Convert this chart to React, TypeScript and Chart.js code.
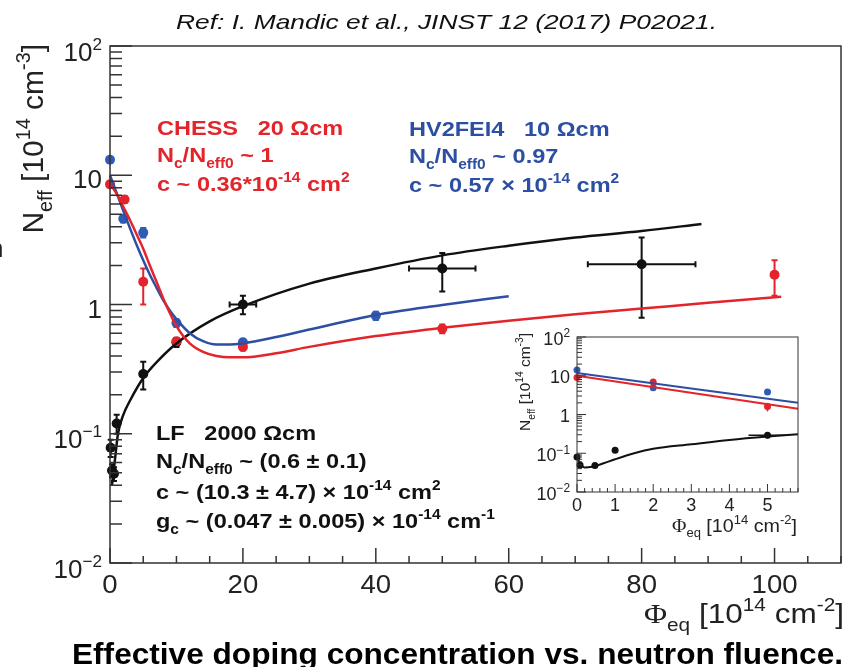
import React, { useEffect, useRef } from "react";
import { Chart, registerables } from "chart.js";
Chart.register(...registerables);

const RED = "#e3242b";
const BLUE = "#2d4fa3";
const BLUE_PT = "#2f5bb5";
const BLACK = "#111111";
const SANS = "'Liberation Sans', Arial, Helvetica, sans-serif";
const SERIF = "'Liberation Serif', 'Times New Roman', serif";

// ---------- main plot data ----------
const chessPhi = [0, 2.2, 5, 10, 20, 50, 100];
const chessNeff = [8.5, 6.5, 1.5, 0.52, 0.47, 0.65, 1.7];
const chessErrUp = [0.4, 0.4, 0.4, 0.03, 0.03, 0.05, 0.5];
const chessErrDn = [0.4, 0.4, 0.5, 0.03, 0.03, 0.05, 0.53];

const hvPhi = [0, 2, 5, 10, 20, 40];
const hvNeff = [13.2, 4.6, 3.6, 0.72, 0.51, 0.82];
const hvErr = [0.6, 0.3, 0.3, 0.05, 0.03, 0.06];

const lfPhi = [0.1, 0.3, 0.6, 1, 5, 10, 20, 50, 80];
const lfNeff = [0.078, 0.052, 0.049, 0.12, 0.29, 0.51, 1.0, 1.9, 2.05];
const lfPhiErr = [0, 0, 0, 0, 0, 0, 2, 5, 8.1];
const lfErrUp = [0.012, 0.006, 0.006, 0.02, 0.07, 0.04, 0.17, 0.6, 1.25];
const lfErrDn = [0.012, 0.006, 0.006, 0.02, 0.07, 0.04, 0.16, 0.64, 1.26];

// fit curves
const chessFitPhi = [0, 1, 2, 3, 4, 5, 6, 7, 8, 9, 10, 12, 14, 16, 18, 20, 25, 30, 40, 50, 60, 70, 80, 90, 101];
const chessFitNeff = [8.6, 7.2, 5.7, 4.5, 3.5, 2.7, 2.0, 1.5, 1.12, 0.86, 0.68, 0.5, 0.43, 0.4, 0.39, 0.39, 0.42, 0.47, 0.57, 0.66, 0.75, 0.84, 0.93, 1.03, 1.15];
const hvFitPhi = [0, 1, 2, 3, 4, 5, 6, 7, 8, 9, 10, 12, 14, 16, 18, 20, 25, 30, 40, 50, 60];
const hvFitNeff = [10, 7.3, 5.3, 3.9, 2.9, 2.2, 1.7, 1.35, 1.08, 0.9, 0.77, 0.6, 0.52, 0.49, 0.49, 0.5, 0.56, 0.64, 0.83, 0.99, 1.16];
const lfFitPhi = [0.3, 0.7, 1.2, 2, 3, 5, 7.5, 10, 15, 20, 30, 40, 50, 60, 70, 80, 89];
const lfFitNeff = [0.04, 0.06, 0.1, 0.14, 0.18, 0.27, 0.38, 0.5, 0.74, 0.97, 1.45, 1.9, 2.4, 2.85, 3.3, 3.7, 4.2];

// axis ticks
const xTickValues = [0, 20, 40, 60, 80, 100];
const yTickValues = [0.01, 0.1, 1, 10, 100];
const yTickBase = ["10", "10", "1", "10", "10"];
const yTickSup = ["\u22122", "\u22121", "", "", "2"];

// ---------- inset data ----------
const inChessPhi = [0, 2, 5];
const inChessNeff = [9, 6.9, 1.6];
const inChessErr = [0.5, 0.4, 0.4];
const inHvPhi = [0, 2, 5];
const inHvNeff = [14, 4.9, 3.8];
const inLfPhi = [0, 0.08, 0.47, 1, 5];
const inLfNeff = [0.08, 0.05, 0.048, 0.12, 0.29];
const inLfPhiErr = [0, 0, 0, 0, 0.5];
const inLfErr = [0.01, 0.005, 0.005, 0.01, 0.05];
const inChessFitPhi = [0, 5.8];
const inChessFitNeff = [10, 1.4];
const inHvFitPhi = [0, 5.8];
const inHvFitNeff = [11.8, 2.0];
const inLfFitPhi = [0, 0.1, 0.2, 0.4, 0.7, 1, 1.5, 2, 3, 4, 5, 5.8];
const inLfFitNeff = [0.08, 0.052, 0.043, 0.045, 0.055, 0.07, 0.1, 0.13, 0.17, 0.22, 0.27, 0.31];
const inXTickValues = [0, 1, 2, 3, 4, 5];

type Seg = { t: string; s?: "sub" | "sup"; f?: string };
type RichOpts = {
  weight?: string;
  family?: string;
  align?: "left" | "right" | "center";
  sx?: number;
  targetW?: number;
};

function segFont(seg: Seg, size: number, weight: string, family: string) {
  const sz = seg.s ? size * 0.66 : size;
  return `${weight} ${sz}px ${seg.f || family}`;
}

function richWidth(ctx: CanvasRenderingContext2D, segs: Seg[], size: number, weight: string, family: string) {
  let w = 0;
  for (const s of segs) {
    ctx.font = segFont(s, size, weight, family);
    w += ctx.measureText(s.t).width;
  }
  return w;
}

function drawRich(
  ctx: CanvasRenderingContext2D,
  x: number,
  y: number,
  segs: Seg[],
  size: number,
  color: string,
  o: RichOpts = {}
) {
  const weight = o.weight || "normal";
  const family = o.family || SANS;
  const align = o.align || "left";
  const w = richWidth(ctx, segs, size, weight, family);
  const sx = o.targetW ? o.targetW / w : o.sx || 1;
  const x0 = align === "left" ? x : align === "right" ? x - w * sx : x - (w * sx) / 2;
  ctx.save();
  ctx.translate(x0, y);
  ctx.scale(sx, 1);
  ctx.fillStyle = color;
  ctx.textBaseline = "alphabetic";
  ctx.textAlign = "left";
  let cx = 0;
  for (const s of segs) {
    ctx.font = segFont(s, size, weight, family);
    const dy = s.s === "sub" ? size * 0.3 : s.s === "sup" ? -size * 0.42 : 0;
    ctx.fillText(s.t, cx, dy);
    cx += ctx.measureText(s.t).width;
  }
  ctx.restore();
}

function toPts(xs: number[], ys: number[]) {
  return xs.map((x, i) => ({ x, y: ys[i] }));
}

type ErrSet = { x: number[]; y: number[]; xe?: number[]; up: number[]; dn: number[]; color: string };

function drawErrors(chart: any, sets: ErrSet[], cap: number, lw: number) {
  const ctx: CanvasRenderingContext2D = chart.ctx;
  const xs = chart.scales.x;
  const ys = chart.scales.y;
  ctx.save();
  ctx.lineWidth = lw;
  for (const set of sets) {
    ctx.strokeStyle = set.color;
    set.x.forEach((xv, i) => {
      const px = xs.getPixelForValue(xv);
      const py = ys.getPixelForValue(set.y[i]);
      const top = ys.getPixelForValue(set.y[i] + set.up[i]);
      const bot = ys.getPixelForValue(set.y[i] - set.dn[i]);
      ctx.beginPath();
      ctx.moveTo(px, top);
      ctx.lineTo(px, bot);
      if (cap > 0) {
        ctx.moveTo(px - cap, top);
        ctx.lineTo(px + cap, top);
        ctx.moveTo(px - cap, bot);
        ctx.lineTo(px + cap, bot);
      }
      const xe = set.xe ? set.xe[i] : 0;
      if (xe > 0) {
        const l = xs.getPixelForValue(xv - xe);
        const r = xs.getPixelForValue(xv + xe);
        ctx.moveTo(l, py);
        ctx.lineTo(r, py);
        if (cap > 0) {
          ctx.moveTo(l, py - cap);
          ctx.lineTo(l, py + cap);
          ctx.moveTo(r, py - cap);
          ctx.lineTo(r, py + cap);
        }
      }
      ctx.stroke();
    });
  }
  ctx.restore();
}

function drawFrameAndTicks(
  chart: any,
  xMajor: number[],
  xMinorStep: number,
  xMax: number,
  majLenX: number,
  minLenX: number,
  majLenY: number,
  minLenY: number,
  lw: number
) {
  const ctx: CanvasRenderingContext2D = chart.ctx;
  const a = chart.chartArea;
  const xs = chart.scales.x;
  const ys = chart.scales.y;
  ctx.save();
  ctx.strokeStyle = "#333";
  ctx.lineWidth = lw;
  ctx.strokeRect(a.left, a.top, a.right - a.left, a.bottom - a.top);
  ctx.beginPath();
  for (let v = 0; v <= xMax + 1e-9; v += xMinorStep) {
    const px = xs.getPixelForValue(v);
    const isMaj = xMajor.some((m) => Math.abs(m - v) < 1e-6);
    ctx.moveTo(px, a.bottom);
    ctx.lineTo(px, a.bottom - (isMaj ? majLenX : minLenX));
  }
  for (let e = -2; e <= 2; e++) {
    for (let m = 1; m <= 9; m++) {
      const v = m * Math.pow(10, e);
      if (v > 100 + 1e-9) continue;
      const py = ys.getPixelForValue(v);
      ctx.moveTo(a.left, py);
      ctx.lineTo(a.left + (m === 1 ? majLenY : minLenY), py);
    }
  }
  ctx.stroke();
  ctx.restore();
}

const yTitleSegs: Seg[] = [
  { t: "N" },
  { t: "eff", s: "sub" },
  { t: " [10" },
  { t: "14", s: "sup" },
  { t: " cm" },
  { t: "-3", s: "sup" },
  { t: "]" },
];
const xTitleSegs: Seg[] = [
  { t: "\u03A6", f: SERIF },
  { t: "eq", s: "sub" },
  { t: " [10" },
  { t: "14", s: "sup" },
  { t: " cm" },
  { t: "-2", s: "sup" },
  { t: "]" },
];

const mainPlugin = {
  id: "mainDecor",
  beforeDraw(chart: any) {
    const ctx = chart.ctx;
    ctx.save();
    ctx.fillStyle = "#ffffff";
    ctx.fillRect(0, 0, chart.width, chart.height);
    ctx.restore();
  },
  beforeDatasetsDraw(chart: any) {
    drawErrors(
      chart,
      [
        { x: chessPhi, y: chessNeff, up: chessErrUp, dn: chessErrDn, color: RED },
        { x: hvPhi, y: hvNeff, up: hvErr, dn: hvErr, color: BLUE_PT },
        { x: lfPhi, y: lfNeff, xe: lfPhiErr, up: lfErrUp, dn: lfErrDn, color: BLACK },
      ],
      3,
      2
    );
  },
  afterDraw(chart: any) {
    const ctx: CanvasRenderingContext2D = chart.ctx;
    const xs = chart.scales.x;
    const ys = chart.scales.y;
    drawFrameAndTicks(chart, xTickValues, 5, 110, 15, 7, 22, 12, 1.5);

    yTickValues.forEach((v, i) => {
      const py = ys.getPixelForValue(v);
      const segs: Seg[] = [{ t: yTickBase[i] }];
      if (yTickSup[i]) segs.push({ t: yTickSup[i], s: "sup" });
      drawRich(ctx, 102, py + (yTickSup[i] ? 14.5 : 13), segs, 26, "#222", { align: "right" });
    });
    xTickValues.forEach((v) => {
      const px = xs.getPixelForValue(v);
      drawRich(ctx, px, 593, [{ t: String(v) }], 26, "#222", { align: "center", sx: 1.06 });
    });

    ctx.save();
    ctx.translate(43, 44);
    ctx.rotate(-Math.PI / 2);
    drawRich(ctx, 0, 0, yTitleSegs, 30, "#222", { align: "right" });
    ctx.restore();

    drawRich(ctx, -11, 257, [{ t: "n" }], 26, "#222");

    drawRich(ctx, 844, 623, xTitleSegs, 28, "#222", { align: "right", targetW: 200 });

    drawRich(ctx, 176, 29, [{ t: "Ref: I. Mandic et al., JINST 12 (2017) P02021." }], 21, "#111", {
      weight: "italic",
      targetW: 541,
    });

    drawRich(ctx, 72, 664, [{ t: "Effective doping concentration vs. neutron fluence." }], 29, "#000", {
      weight: "bold",
      targetW: 771,
    });

    const ann = { weight: "bold", sx: 1.12 };
    drawRich(ctx, 157, 135, [{ t: "CHESS   20 \u03A9cm" }], 21, RED, ann);
    drawRich(ctx, 157, 162, [{ t: "N" }, { t: "c", s: "sub" }, { t: "/N" }, { t: "eff0", s: "sub" }, { t: " ~ 1" }], 21, RED, ann);
    drawRich(ctx, 157, 191, [{ t: "c ~ 0.36*10" }, { t: "-14", s: "sup" }, { t: " cm" }, { t: "2", s: "sup" }], 21, RED, ann);

    drawRich(ctx, 409, 136, [{ t: "HV2FEI4   10 \u03A9cm" }], 21, BLUE, ann);
    drawRich(ctx, 409, 163, [{ t: "N" }, { t: "c", s: "sub" }, { t: "/N" }, { t: "eff0", s: "sub" }, { t: " ~ 0.97" }], 21, BLUE, ann);
    drawRich(ctx, 409, 192, [{ t: "c ~ 0.57 \u00D7 10" }, { t: "-14", s: "sup" }, { t: " cm" }, { t: "2", s: "sup" }], 21, BLUE, ann);

    drawRich(ctx, 156, 440, [{ t: "LF   2000 \u03A9cm" }], 21, BLACK, ann);
    drawRich(ctx, 156, 468, [{ t: "N" }, { t: "c", s: "sub" }, { t: "/N" }, { t: "eff0", s: "sub" }, { t: " ~ (0.6 \u00B1 0.1)" }], 21, BLACK, ann);
    drawRich(ctx, 156, 499, [{ t: "c ~ (10.3 \u00B1 4.7) \u00D7 10" }, { t: "-14", s: "sup" }, { t: " cm" }, { t: "2", s: "sup" }], 21, BLACK, ann);
    drawRich(
      ctx,
      156,
      528,
      [{ t: "g" }, { t: "c", s: "sub" }, { t: " ~ (0.047 \u00B1 0.005) \u00D7 10" }, { t: "-14", s: "sup" }, { t: " cm" }, { t: "-1", s: "sup" }],
      21,
      BLACK,
      ann
    );
  },
};

const insetPlugin = {
  id: "insetDecor",
  beforeDraw(chart: any) {
    const ctx = chart.ctx;
    const a = chart.chartArea;
    ctx.save();
    ctx.fillStyle = "#ffffff";
    ctx.fillRect(a.left, a.top, a.right - a.left, a.bottom - a.top);
    ctx.restore();
  },
  beforeDatasetsDraw(chart: any) {
    drawErrors(
      chart,
      [
        { x: inChessPhi, y: inChessNeff, up: inChessErr, dn: inChessErr, color: RED },
        { x: inLfPhi, y: inLfNeff, xe: inLfPhiErr, up: inLfErr, dn: inLfErr, color: BLACK },
      ],
      0,
      1.5
    );
  },
  afterDraw(chart: any) {
    const ctx: CanvasRenderingContext2D = chart.ctx;
    const xs = chart.scales.x;
    const ys = chart.scales.y;
    drawFrameAndTicks(chart, inXTickValues, 0.2, 5.8, 8, 4, 9, 5, 1);
    yTickValues.forEach((v, i) => {
      const py = ys.getPixelForValue(v);
      const segs: Seg[] = [{ t: yTickBase[i] }];
      if (yTickSup[i]) segs.push({ t: yTickSup[i], s: "sup" });
      drawRich(ctx, 70, py + (yTickSup[i] ? 8 : 7), segs, 18, "#222", { align: "right" });
    });
    inXTickValues.forEach((v) => {
      const px = xs.getPixelForValue(v);
      drawRich(ctx, px, 191, [{ t: String(v) }], 18, "#222", { align: "center" });
    });
    ctx.save();
    ctx.translate(30, 13);
    ctx.rotate(-Math.PI / 2);
    drawRich(ctx, 0, 0, yTitleSegs, 15.5, "#222", { align: "right" });
    ctx.restore();
    drawRich(ctx, 297, 212, xTitleSegs, 18, "#222", { align: "right", targetW: 125 });
  },
};

function lineDs(xs: number[], ys: number[], color: string, width: number) {
  return {
    type: "line" as const,
    data: toPts(xs, ys),
    borderColor: color,
    borderWidth: width,
    pointRadius: 0,
    fill: false,
    cubicInterpolationMode: "monotone" as const,
    clip: false as any,
  };
}

function ptDs(xs: number[], ys: number[], color: string, r: number) {
  return {
    type: "line" as const,
    data: toPts(xs, ys),
    showLine: false,
    pointRadius: r,
    pointBackgroundColor: color,
    pointBorderColor: color,
    pointBorderWidth: 0,
    clip: false as any,
  };
}

function baseOptions(padTop: number, padRight: number, xMax: number, xH: number, yW: number) {
  return {
    animation: false,
    responsive: false,
    devicePixelRatio: 1,
    events: [],
    layout: { padding: { top: padTop, right: padRight, left: 0, bottom: 0 } },
    plugins: { legend: { display: false }, tooltip: { enabled: false } },
    scales: {
      x: {
        type: "linear",
        min: 0,
        max: xMax,
        ticks: { display: false },
        grid: { display: false },
        border: { display: false },
        afterFit: (s: any) => {
          s.height = xH;
        },
      },
      y: {
        type: "logarithmic",
        min: 0.01,
        max: 100,
        ticks: { display: false },
        grid: { display: false },
        border: { display: false },
        afterFit: (s: any) => {
          s.width = yW;
        },
      },
    },
  } as any;
}

export default function App() {
  const mainRef = useRef<HTMLCanvasElement>(null);
  const insetRef = useRef<HTMLCanvasElement>(null);

  useEffect(() => {
    document.body.style.margin = "0";
    const main = new Chart(mainRef.current as HTMLCanvasElement, {
      type: "line",
      data: {
        datasets: [
          lineDs(chessFitPhi, chessFitNeff, RED, 2.5),
          lineDs(hvFitPhi, hvFitNeff, BLUE, 2.5),
          lineDs(lfFitPhi, lfFitNeff, BLACK, 2.5),
          ptDs(chessPhi, chessNeff, RED, 5),
          ptDs(hvPhi, hvNeff, BLUE_PT, 5),
          ptDs(lfPhi, lfNeff, BLACK, 5),
        ] as any,
      },
      options: baseOptions(46, 4, 110, 104, 110),
      plugins: [mainPlugin],
    });

    const inset = new Chart(insetRef.current as HTMLCanvasElement, {
      type: "line",
      data: {
        datasets: [
          lineDs(inChessFitPhi, inChessFitNeff, RED, 2),
          lineDs(inHvFitPhi, inHvFitNeff, BLUE, 2),
          lineDs(inLfFitPhi, inLfFitNeff, BLACK, 2),
          ptDs(inChessPhi, inChessNeff, RED, 3.5),
          ptDs(inHvPhi, inHvNeff, BLUE_PT, 3.5),
          ptDs(inLfPhi, inLfNeff, BLACK, 3.5),
        ] as any,
      },
      options: baseOptions(17, 22, 5.8, 58, 77),
      plugins: [insetPlugin],
    });

    return () => {
      main.destroy();
      inset.destroy();
    };
  }, []);

  return (
    <div style={{ position: "relative", width: 846, height: 667, overflow: "hidden" }}>
      <canvas ref={mainRef} width={846} height={667} style={{ position: "absolute", left: 0, top: 0 }} />
      <canvas ref={insetRef} width={320} height={230} style={{ position: "absolute", left: 500, top: 320 }} />
    </div>
  );
}
